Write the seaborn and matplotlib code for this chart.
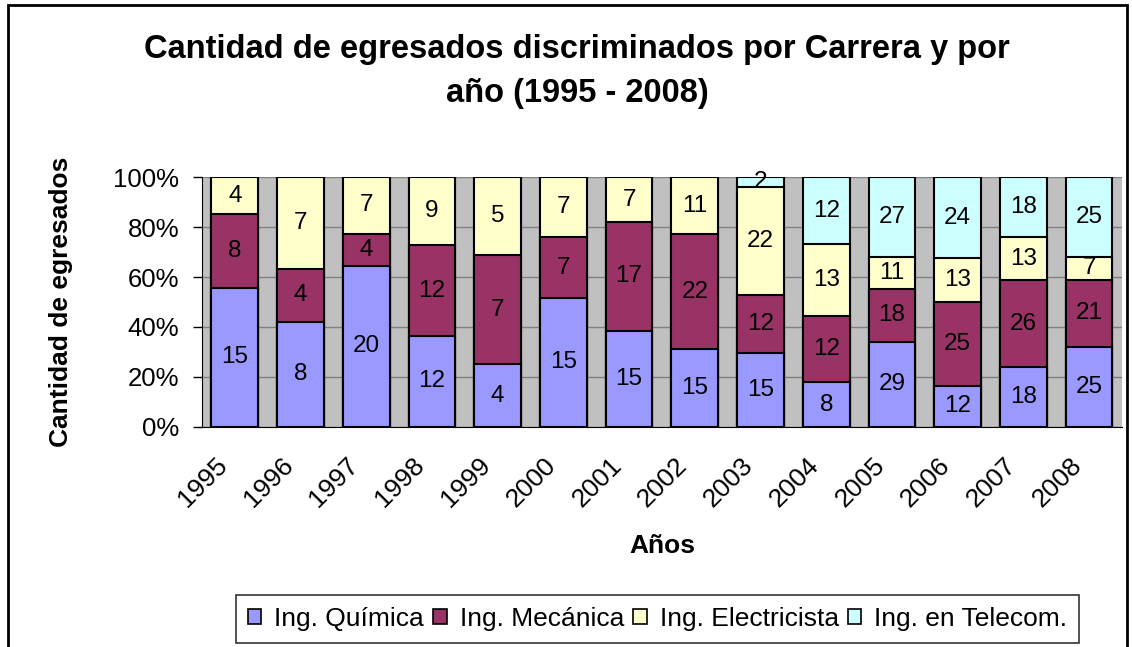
import numpy as np
import pandas as pd
import seaborn as sns
from matplotlib import pyplot as plt
from matplotlib.patches import Rectangle, Patch

years = ["1995", "1996", "1997", "1998", "1999", "2000", "2001",
         "2002", "2003", "2004", "2005", "2006", "2007", "2008"]
quimica = [15, 8, 20, 12, 4, 15, 15, 15, 15, 8, 29, 12, 18, 25]
mecanica = [8, 4, 4, 12, 7, 7, 17, 22, 12, 12, 18, 25, 26, 21]
electricista = [4, 7, 7, 9, 5, 7, 7, 11, 22, 13, 11, 13, 13, 7]
telecom = [0, 0, 0, 0, 0, 0, 0, 0, 2, 12, 27, 24, 18, 25]

series = ["Ing. Química", "Ing. Mecánica", "Ing. Electricista", "Ing. en Telecom."]
colors = ["#9999FF", "#993366", "#FFFFCC", "#CCFFFF"]

df = pd.DataFrame({"Año": years, series[0]: quimica, series[1]: mecanica,
                   series[2]: electricista, series[3]: telecom})
counts = df[series].to_numpy(dtype=float)
pct = counts / counts.sum(axis=1, keepdims=True) * 100
cum = np.cumsum(pct, axis=1)

sns.set_style("white")
plt.rcParams["font.family"] = ["Liberation Sans", "DejaVu Sans"]
for key in ["text.color", "axes.labelcolor", "xtick.color", "ytick.color"]:
    plt.rcParams[key] = "black"

fig = plt.figure(figsize=(11.32, 6.47), dpi=100)
ax = fig.add_axes([0.1784, 0.3405, 0.8127, 0.3855])
ax.set_facecolor("#C0C0C0")

# draw cumulative bars from top layer down so each layer covers the previous
for j in range(len(series) - 1, -1, -1):
    sns.barplot(x=df["Año"], y=cum[:, j], color=colors[j], edgecolor="black",
                linewidth=1.5, width=0.71, saturation=1, ax=ax, zorder=3)

for i in range(len(years)):
    bottom = 0
    for j in range(len(series)):
        if counts[i, j] > 0:
            ax.text(i, bottom + pct[i, j] / 2, f"{int(counts[i, j])}",
                    ha="center", va="center", fontsize=17.5, zorder=5)
        bottom += pct[i, j]

ax.set_ylim(0, 100)
ax.set_xlim(-0.5, len(years) - 0.5)
ax.set_yticks(np.arange(0, 101, 20))
ax.set_yticklabels([f"{v}%" for v in range(0, 101, 20)], fontsize=18.5)
ax.yaxis.grid(True, color="#808080", linewidth=1, zorder=0)
ax.set_axisbelow(True)
# label anchors sit a little left of the bar centres (major ticks are invisible)
ax.set_xticks(np.arange(len(years)) - 0.17)
ax.set_xticklabels(years, rotation=45, ha="right", va="center",
                   rotation_mode="anchor", fontsize=19)
ax.set_xticks(np.arange(len(years) + 1) - 0.5, minor=True)
ax.tick_params(axis="x", which="major", length=0, pad=25)
ax.tick_params(axis="x", which="minor", length=6.5, color="black", width=1)
ax.tick_params(axis="y", length=6.5, color="black", width=1, left=True, pad=10)
for side in ["top", "right"]:
    ax.spines[side].set_visible(False)
ax.spines["left"].set_color("black")
ax.spines["bottom"].set_color("black")

ax.set_xlabel("Años", fontsize=19, fontweight="bold", labelpad=16)
ax.set_ylabel("Cantidad de egresados", fontsize=19, fontweight="bold", labelpad=29)

fig.text(0.51, 0.89, "Cantidad de egresados discriminados por Carrera y por\naño (1995 - 2008)",
         ha="center", va="center", fontsize=23.5, fontweight="bold", linespacing=1.55)

handles = [Patch(facecolor=c, edgecolor="black", linewidth=1.2) for c in colors]
leg = fig.legend(handles, series, loc="center", bbox_to_anchor=(0.581, 0.043), ncol=4,
                 fontsize=19, frameon=True, fancybox=False, handlelength=0.5,
                 handleheight=0.5, handletextpad=0.5, columnspacing=0.35,
                 borderpad=0.45, borderaxespad=0)
leg.get_frame().set_edgecolor("black")
leg.get_frame().set_linewidth(1.2)

fig.patches.append(Rectangle((0.0075, -0.05), 0.988, 1.042, transform=fig.transFigure,
                             fill=False, edgecolor="black", linewidth=2))

fig.savefig("out.png", dpi=100)
